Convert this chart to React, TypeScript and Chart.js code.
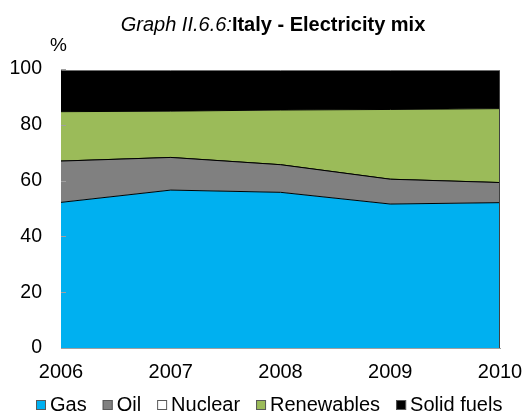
import { useEffect, useRef } from "react";
import { Chart, registerables } from "chart.js";

Chart.register(...registerables);

const years = ["2006", "2007", "2008", "2009", "2010"];
const gas = [52.2, 56.6, 55.8, 51.6, 52.1];
const oil = [14.8, 11.7, 9.9, 8.9, 7.2];
const nuclear = [0, 0, 0, 0, 0];
const renewables = [17.7, 16.6, 19.6, 25.0, 26.5];
const solidFuels = [14.6, 14.4, 14.0, 13.8, 13.5];
const yTicks = [0, 20, 40, 60, 80, 100];
const seriesNames = ["Gas", "Oil", "Nuclear", "Renewables", "Solid fuels"];
const seriesColors = ["#00B0F0", "#808080", "#FFFFFF", "#9BBB59", "#000000"];
const titleItalic = "Graph II.6.6:";
const titleBold = "Italy - Electricity mix";
const yUnit = "%";

const FONT = "'Liberation Sans', Arial, sans-serif";

const decorPlugin = {
  id: "decor",
  afterDatasetsDraw(chart: any) {
    const { ctx, chartArea, scales } = chart;
    const y = scales.y;
    ctx.save();
    ctx.strokeStyle = "#A0A0A0";
    ctx.lineWidth = 1;
    yTicks.forEach((v) => {
      const py = Math.round(y.getPixelForValue(v)) + 0.5;
      ctx.beginPath();
      ctx.moveTo(chartArea.left, py);
      ctx.lineTo(chartArea.left + 5, py);
      ctx.stroke();
    });
    const last = years.length - 1;
    const total =
      gas[last] + oil[last] + nuclear[last] + renewables[last] + solidFuels[last];
    const x = Math.round(chartArea.right) - 0.5;
    ctx.strokeStyle = "#404040";
    ctx.beginPath();
    ctx.moveTo(x, y.getPixelForValue(total));
    ctx.lineTo(x, chartArea.bottom);
    ctx.stroke();
    ctx.restore();
  },
  afterDraw(chart: any) {
    const { ctx } = chart;
    ctx.save();
    ctx.fillStyle = "#000";
    ctx.textBaseline = "alphabetic";
    ctx.font = `italic 20px ${FONT}`;
    const w1 = ctx.measureText(titleItalic).width;
    ctx.font = `bold 20px ${FONT}`;
    const w2 = ctx.measureText(titleBold).width;
    const start = 273 - (w1 + w2) / 2;
    ctx.font = `italic 20px ${FONT}`;
    ctx.fillText(titleItalic, start, 30.5);
    ctx.font = `bold 20px ${FONT}`;
    ctx.fillText(titleBold, start + w1, 30.5);
    ctx.font = `19px ${FONT}`;
    ctx.fillText(yUnit, 50, 51);
    ctx.font = `20px ${FONT}`;
    let lx = 36;
    const boxSize = 10;
    const boxTop = 400;
    chart.data.datasets.forEach((ds: any) => {
      ctx.fillStyle = ds.backgroundColor;
      ctx.fillRect(lx, boxTop, boxSize, boxSize);
      ctx.strokeStyle = "#595959";
      ctx.lineWidth = 1;
      ctx.strokeRect(lx + 0.5, boxTop + 0.5, boxSize - 1, boxSize - 1);
      ctx.fillStyle = "#000";
      const tx = lx + boxSize + 4;
      ctx.fillText(ds.label, tx, 410.5);
      lx = tx + ctx.measureText(ds.label).width + 16;
    });
    ctx.restore();
  },
};

export default function App() {
  const ref = useRef<HTMLCanvasElement>(null);
  useEffect(() => {
    const values = [gas, oil, nuclear, renewables, solidFuels];
    const chart = new Chart(ref.current!, {
      type: "line",
      data: {
        labels: years,
        datasets: values.map((d, i) => ({
          label: seriesNames[i],
          data: d,
          backgroundColor: seriesColors[i],
          borderColor: "#000000",
          borderWidth: 1,
          pointRadius: 0,
          tension: 0,
          fill: i === 0 ? "origin" : "-1",
        })),
      },
      options: {
        animation: false,
        responsive: true,
        maintainAspectRatio: false,
        layout: { padding: { top: 69, right: 24, left: 0, bottom: 0 } },
        plugins: {
          legend: { display: false },
          title: { display: false },
          tooltip: { enabled: false },
        },
        scales: {
          x: {
            type: "category",
            offset: false,
            grid: { display: false, drawTicks: false },
            border: { display: true, color: "#A0A0A0", width: 1 },
            ticks: {
              color: "#000",
              font: { family: FONT, size: 20 },
              padding: 12,
              maxRotation: 0,
              autoSkip: false,
            },
            afterFit: (s: any) => {
              s.height = 66;
              s.paddingLeft = 0;
              s.paddingRight = 0;
            },
          },
          y: {
            stacked: true,
            min: 0,
            max: 100,
            afterBuildTicks: (s: any) => {
              s.ticks = yTicks.map((v) => ({ value: v }));
            },
            grid: { display: false, drawTicks: false },
            border: { display: true, color: "#A0A0A0", width: 1 },
            ticks: {
              color: "#000",
              font: { family: FONT, size: 19.5 },
              padding: 19,
            },
            afterFit: (s: any) => {
              s.width = 61;
              s.paddingTop = 0;
              s.paddingBottom = 0;
            },
          },
        },
      },
      plugins: [decorPlugin],
    });
    return () => chart.destroy();
  }, []);
  return (
    <div
      style={{
        position: "absolute",
        left: 0,
        top: 0,
        width: 524,
        height: 414,
        background: "#fff",
      }}
    >
      <canvas ref={ref} />
    </div>
  );
}
